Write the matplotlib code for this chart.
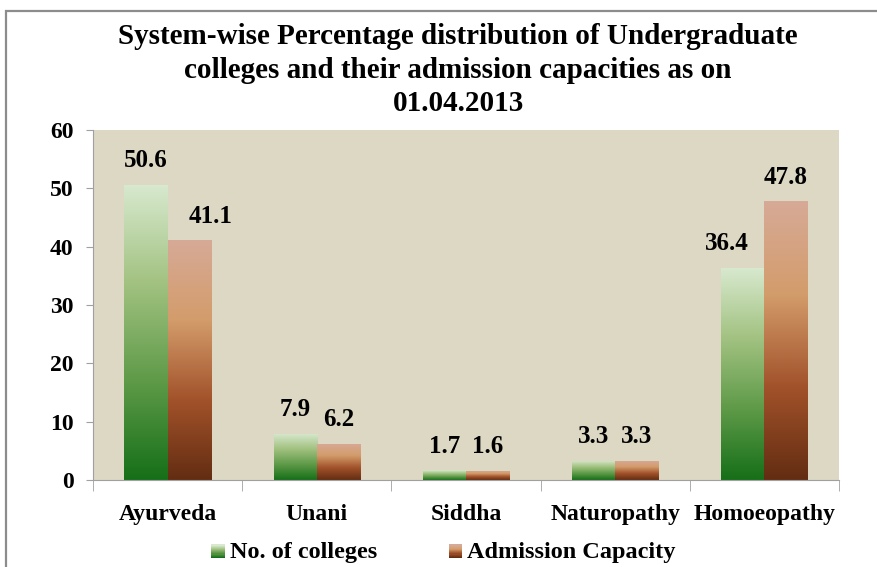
import matplotlib.pyplot as plt
import numpy as np
from matplotlib.colors import LinearSegmentedColormap
from matplotlib.legend_handler import HandlerBase
from matplotlib.patches import Rectangle

SYSTEMS = ["Ayurveda", "Unani", "Siddha", "Naturopathy", "Homoeopathy"]
COLLEGES = [50.6, 7.9, 1.7, 3.3, 36.4]
CAPACITY = [41.1, 6.2, 1.6, 3.3, 47.8]
SERIES = ["No. of colleges", "Admission Capacity"]

# label nudges (points) as placed in the original
NUDGE_COLLEGES = [0, 0, 0, 0, -11.5]
NUDGE_CAPACITY = [15, 0, 0, 0, 0]

GREEN = LinearSegmentedColormap.from_list(
    "green", ["#166f18", "#5e9a48", "#a2c281", "#d8e9cf"])
BROWN = LinearSegmentedColormap.from_list(
    "brown", ["#632d12", "#a2522a", "#d39c6b", "#d7aa97"])

plt.rcParams["font.family"] = ["Liberation Serif", "DejaVu Serif"]
plt.rcParams["font.weight"] = "bold"

fig = plt.figure(figsize=(8.77, 5.67), dpi=100)
ax = fig.add_axes([93 / 877, 1 - 480 / 567, 746 / 877, 350 / 567])
ax.set_facecolor("#ddd8c4")

grad = np.linspace(0, 1, 256).reshape(-1, 1)
x = np.arange(len(SYSTEMS))
w = 0.29


def gradient_bars(xs, vals, cmap, nudges):
    bars = ax.bar(xs, vals, w, color="none", zorder=2)
    for b in bars:
        x0, y0 = b.get_x(), b.get_y()
        im = ax.imshow(grad, cmap=cmap, origin="lower", aspect="auto",
                       extent=[x0, x0 + b.get_width(), y0, y0 + b.get_height()],
                       zorder=2)
        im.set_clip_path(b)
    for xi, v, dx in zip(xs, vals, nudges):
        ax.annotate(f"{v}", (xi, v), xytext=(dx, 9), textcoords="offset points",
                    ha="center", va="bottom", fontsize=18, fontweight="bold")


gradient_bars(x - w / 2, COLLEGES, GREEN, NUDGE_COLLEGES)
gradient_bars(x + w / 2, CAPACITY, BROWN, NUDGE_CAPACITY)

ax.set_xlim(-0.5, len(SYSTEMS) - 0.5)
ax.set_ylim(0, 60)
ax.set_yticks(range(0, 61, 10))
ax.set_xticks(x)
ax.set_xticklabels(SYSTEMS, fontsize=17, fontweight="bold")
ax.set_xticks(np.arange(-0.5, len(SYSTEMS)), minor=True)
ax.tick_params(axis="x", which="major", length=0, pad=17)
ax.tick_params(axis="x", which="minor", length=8, color="#a0a0a0", direction="out")
ax.tick_params(axis="y", length=5, color="#a0a0a0", labelsize=17, pad=9)
for lab in ax.get_yticklabels():
    lab.set_fontweight("bold")
for s in ("top", "right"):
    ax.spines[s].set_visible(False)
for s in ("left", "bottom"):
    ax.spines[s].set_color("#a0a0a0")


class GradHandler(HandlerBase):
    def __init__(self, cmap):
        super().__init__()
        self.cmap = cmap

    def create_artists(self, legend, orig, xd, yd, width, height, fontsize, trans):
        n = 12
        s = height * 0.8
        x0 = xd + width - s
        arts = []
        for i in range(n):
            r = Rectangle((x0, yd + i * s / n), s, s / n,
                          facecolor=self.cmap(i / (n - 1)), edgecolor="none",
                          transform=trans)
            arts.append(r)
        return arts


h1, h2 = Rectangle((0, 0), 1, 1), Rectangle((0, 0), 1, 1)
fig.legend([h1, h2], SERIES, loc="center", bbox_to_anchor=(443 / 877, 1 - 552 / 567),
           ncol=2, frameon=False, handlelength=0.6, handletextpad=0.2,
           columnspacing=2.9, prop={"weight": "bold", "size": 17.5},
           handler_map={h1: GradHandler(GREEN), h2: GradHandler(BROWN)})

fig.text(458 / 877, 1 - 70 / 567,
         "System-wise Percentage distribution of Undergraduate\n"
         "colleges and their admission capacities as on\n01.04.2013",
         ha="center", va="center", fontsize=21, fontweight="bold", linespacing=1.3)

fig.add_artist(Rectangle((6 / 877, -0.1), 1.2, 1 - 11 / 567 + 0.1,
                         transform=fig.transFigure, fill=False,
                         edgecolor="#8c8c8c", linewidth=1.6))

fig.savefig("out.png", dpi=100)
